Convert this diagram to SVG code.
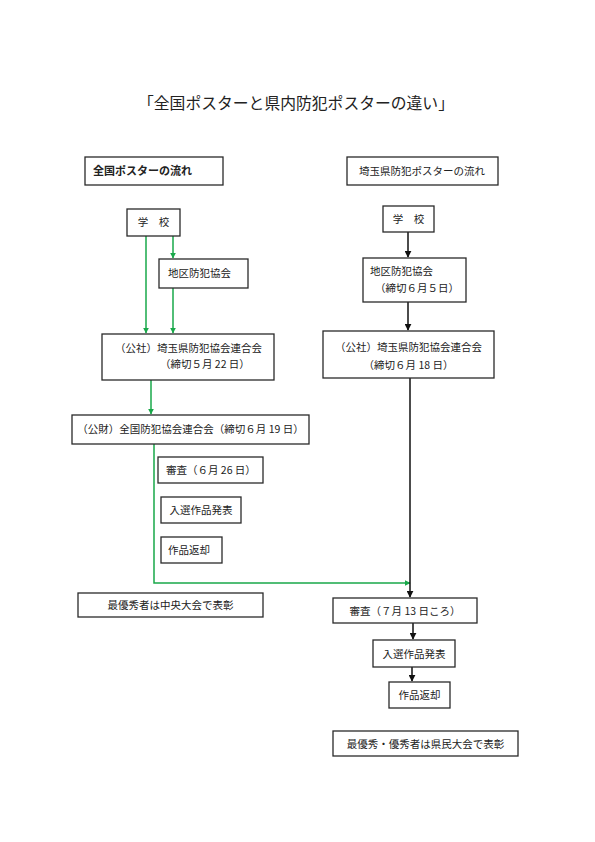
<svg xmlns="http://www.w3.org/2000/svg" width="595" height="842" viewBox="0 0 595 842">
<defs>
<style>
.box{fill:#fff;stroke:#2a2a2a;stroke-width:1.3}
text{font-family:"Noto Sans CJK JP","Noto Sans CJK SC",sans-serif;font-size:10.5px;fill:#222}
.g{stroke:#19a84a;stroke-width:1.5;fill:none}
.k{stroke:#111;stroke-width:1.5;fill:none}
</style>
<marker id="ag" viewBox="0 0 10 10" refX="9" refY="5" markerWidth="6" markerHeight="6" orient="auto" markerUnits="userSpaceOnUse"><path d="M0,0L10,5L0,10z" fill="#19a84a"/></marker>
<marker id="ak" viewBox="0 0 10 10" refX="9" refY="5" markerWidth="7" markerHeight="7" orient="auto" markerUnits="userSpaceOnUse"><path d="M0,0L10,5L0,10z" fill="#111"/></marker>
</defs>
<rect width="595" height="842" fill="#fff"/>
<text x="296" y="109" text-anchor="middle" style="font-size:15.8px">「全国ポスターと県内防犯ポスターの違い」</text>

<g id="connectors">
<path class="g" d="M146,236V333" marker-end="url(#ag)"/>
<path class="g" d="M173,236V258" marker-end="url(#ag)"/>
<path class="g" d="M173,288V333" marker-end="url(#ag)"/>
<path class="g" d="M151,380V414" marker-end="url(#ag)"/>
<path class="g" d="M154,444V583H410" marker-end="url(#ag)"/>
<path class="k" d="M408,232V257" marker-end="url(#ak)"/>
<path class="k" d="M408,302V330" marker-end="url(#ak)"/>
<path class="k" d="M410,378V597" marker-end="url(#ak)"/>
<path class="k" d="M413,623V639" marker-end="url(#ak)"/>
<path class="k" d="M412,667V681" marker-end="url(#ak)"/>
</g>

<g id="hdrL"><rect class="box" x="85" y="157" width="138" height="28"/><text x="93" y="175" style="font-weight:bold;font-size:11px">全国ポスターの流れ</text></g>
<g id="hdrR"><rect class="box" x="347" y="157" width="151" height="28"/><text x="422" y="175" text-anchor="middle">埼玉県防犯ポスターの流れ</text></g>

<g id="schoolL"><rect class="box" x="127" y="209" width="53" height="27"/><text x="153.5" y="226" text-anchor="middle">学　校</text></g>
<g id="chikuL"><rect class="box" x="159" y="259" width="89" height="29"/><text x="168" y="277">地区防犯協会</text></g>
<g id="koshaL"><rect class="box" x="102" y="334" width="172" height="46"/><text x="115" y="352">（公社）埼玉県防犯協会連合会</text><text x="160" y="368">（締切５月 22 日）</text></g>
<g id="zenkoku"><rect class="box" x="72" y="415" width="237" height="29"/><text x="190.5" y="433" text-anchor="middle">（公財）全国防犯協会連合会（締切６月 19 日）</text></g>
<g id="shinsaL"><rect class="box" x="158" y="457" width="105" height="26"/><text x="166" y="474">審査（６月 26 日）</text></g>
<g id="nyusenL"><rect class="box" x="161" y="497" width="80" height="26"/><text x="201" y="514" text-anchor="middle">入選作品発表</text></g>
<g id="henkyakuL"><rect class="box" x="161" y="537" width="61" height="26"/><text x="168" y="554">作品返却</text></g>
<g id="hyoshoL"><rect class="box" x="78" y="593" width="185" height="24"/><text x="170.5" y="609" text-anchor="middle">最優秀者は中央大会で表彰</text></g>

<g id="schoolR"><rect class="box" x="383" y="206" width="51" height="26"/><text x="408.5" y="223" text-anchor="middle">学　校</text></g>
<g id="chikuR"><rect class="box" x="363" y="258" width="103" height="44"/><text x="370" y="275">地区防犯協会</text><text x="375" y="292">（締切６月５日）</text></g>
<g id="koshaR"><rect class="box" x="323" y="331" width="171" height="47"/><text x="408.5" y="351" text-anchor="middle">（公社）埼玉県防犯協会連合会</text><text x="408.5" y="369" text-anchor="middle">（締切６月 18 日）</text></g>
<g id="shinsaR"><rect class="box" x="333" y="598" width="144" height="25"/><text x="405" y="615" text-anchor="middle">審査（７月 13 日ころ）</text></g>
<g id="nyusenR"><rect class="box" x="373" y="640" width="82" height="27"/><text x="414" y="658" text-anchor="middle">入選作品発表</text></g>
<g id="henkyakuR"><rect class="box" x="389" y="682" width="61" height="26"/><text x="419.5" y="699" text-anchor="middle">作品返却</text></g>
<g id="hyoshoR"><rect class="box" x="333" y="731" width="185" height="25"/><text x="425.5" y="748" text-anchor="middle">最優秀・優秀者は県民大会で表彰</text></g>
</svg>
